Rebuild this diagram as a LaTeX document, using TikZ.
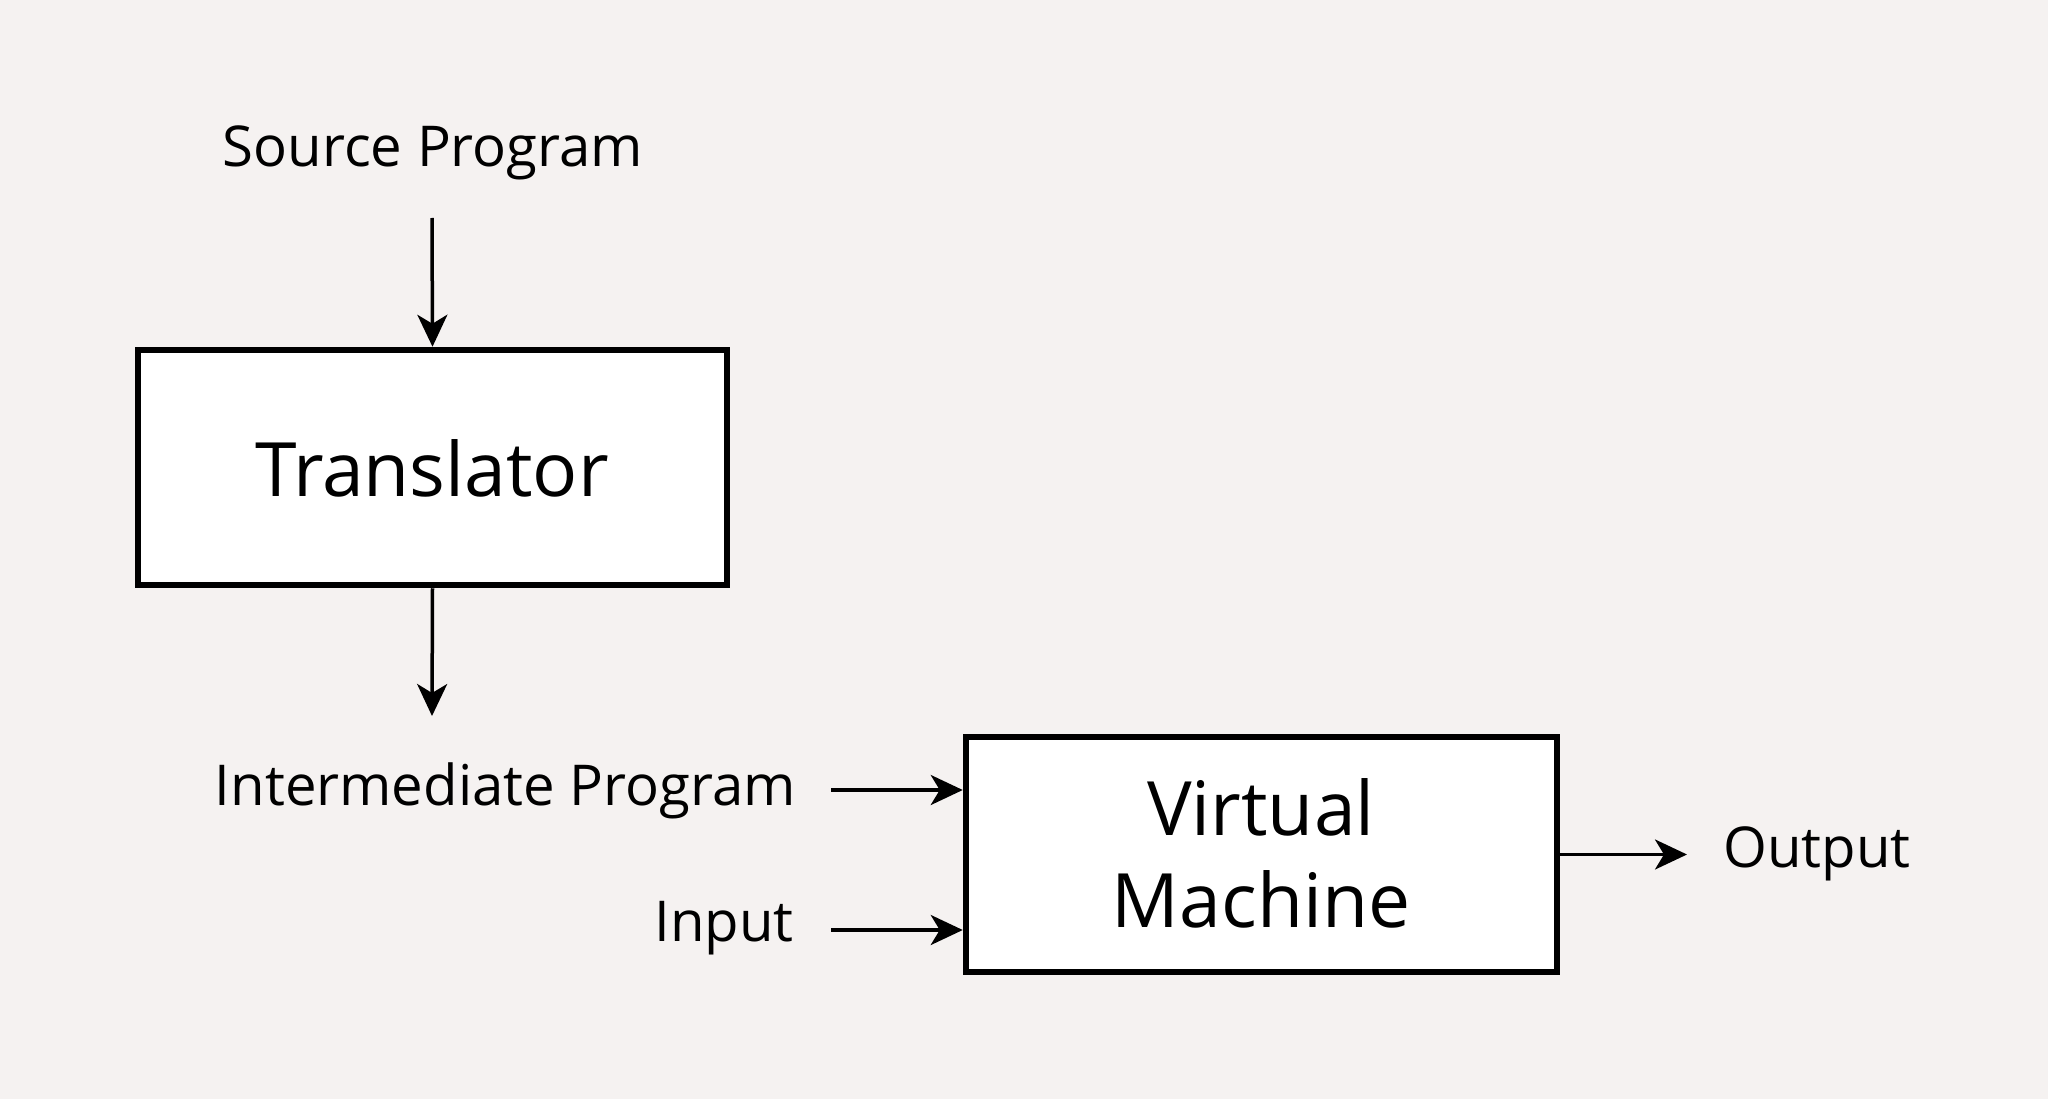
\documentclass[tikz,border=0pt]{standalone}
\usepackage{fontspec}
\setmainfont{Open Sans}
\usetikzlibrary{arrows.meta}
\definecolor{bgcol}{HTML}{F5F2F1}
\tikzset{
  box/.style={draw=black, fill=white, line width=6.5pt, inner sep=0pt},
  conn/.style={line width=3.5pt, -{Stealth[length=32pt,width=30pt,inset=9pt]}},
  small/.style={font=\fontsize{56.3}{68}\selectfont, inner sep=0pt},
  big/.style={font=\fontsize{75}{92}\selectfont, inner sep=0pt},
}
\begin{document}
\begin{tikzpicture}[x=1pt,y=-1pt]
\fill[bgcol] (0,0) rectangle (2048,1099);
\useasboundingbox (0,0) rectangle (2048,1099);
% boxes
\node[box, minimum width=589pt, minimum height=235pt] (tr) at (432.5,467.5) {};
\node[box, minimum width=591pt, minimum height=235pt] (vm) at (1261.5,854.5) {};
% box texts
\node[big, anchor=base] (trt) at (432,496) {Translator};
\node[big, anchor=base] (vm1) at (1261,835) {Virtual};
\node[big, anchor=base] (vm2) at (1261,927) {Machine};
% labels
\node[small, anchor=base] (src) at (433,167) {Source Program};
\node[small, anchor=base east] (inter) at (796,805) {Intermediate Program};
\node[small, anchor=base east] (inp) at (794,941) {Input};
\node[small, anchor=base west] (out) at (1723,867) {Output};
% free ends
\coordinate (s0) at (432,218);
\coordinate (t1) at (432,716);
\coordinate (i0) at (831,790);
\coordinate (n0) at (831,930);
\coordinate (o1) at (1687,854.5);
% connectors
\draw[conn] (s0) -- (tr.north);
\draw[conn] (tr.south) -- (t1);
\draw[conn] (i0) -- (vm.west |- i0);
\draw[conn] (n0) -- (vm.west |- n0);
\draw[conn] (vm.east) -- (o1);
\end{tikzpicture}
\end{document}
